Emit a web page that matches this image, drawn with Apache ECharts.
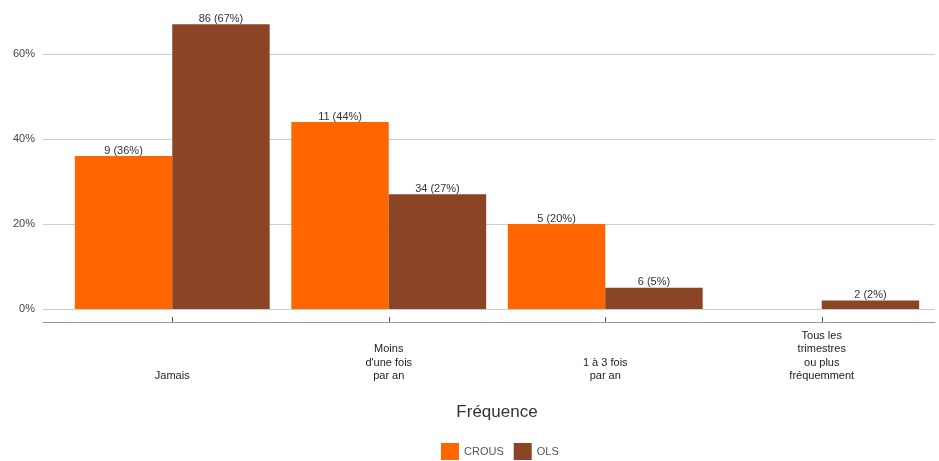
<!DOCTYPE html>
<html><head><meta charset="utf-8">
<script src="https://cdn.jsdelivr.net/npm/echarts@6/dist/echarts.min.js"></script>
<style>html,body{margin:0;padding:0;background:#fff}#c{width:939px;height:461px}</style>
</head><body><div id="c"></div>
<script>
const categories = ['Jamais', "Moins\nd'une fois\npar an", '1 à 3 fois\npar an', 'Tous les\ntrimestres\nou plus\nfréquemment'];
const seriesNames = ['CROUS', 'OLS'];
const crousCounts = [9, 11, 5, 0];
const crousPct = [36, 44, 20, 0];
const olsCounts = [86, 34, 6, 2];
const olsPct = [67, 27, 5, 2];
const yTicks = [0, 20, 40, 60];

const colors = ['#FF6600', '#8B4526'];
const font = 'Liberation Sans, Arial, sans-serif';

function lbl(counts, pct) {
  return {
    show: true, position: 'top', distance: 0,
    color: '#333', fontSize: 11, fontFamily: font,
    formatter: p => counts[p.dataIndex] === 0 ? '' : counts[p.dataIndex] + ' (' + pct[p.dataIndex] + '%)'
  };
}

const chart = echarts.init(document.getElementById('c'), null, {renderer: 'canvas'});
chart.setOption({
  animation: false,
  backgroundColor: '#fff',
  color: colors,
  grid: [
    {left: 64, right: 9, top: 11.5, bottom: 152},
    {left: 43, right: 4, top: 54, bottom: 152}
  ],
  xAxis: [
    {
      type: 'category', gridIndex: 0, data: categories, offset: 13,
      axisLine: {show: false, onZero: false},
      axisTick: {show: true, inside: true, length: 5, alignWithLabel: true, lineStyle: {color: '#555'}},
      axisLabel: {interval: 0, fontSize: 11, fontFamily: font, color: '#222', lineHeight: 13.5, verticalAlign: 'bottom', margin: 61, align: 'center'},
      name: 'Fréquence', nameLocation: 'middle', nameGap: 82,
      nameTextStyle: {fontSize: 17, fontFamily: font, color: '#333', verticalAlign: 'top'}
    },
    {
      type: 'category', gridIndex: 1, data: [''], offset: 13,
      axisLine: {show: true, onZero: false, lineStyle: {color: '#8a9bb0', width: 1}},
      axisTick: {show: false}, axisLabel: {show: false}
    }
  ],
  yAxis: [
    {type: 'value', gridIndex: 0, min: 0, max: 70, show: false, splitLine: {show: false}},
    {
      type: 'value', gridIndex: 1, min: 0, max: 60, interval: 20,
      axisLine: {show: false}, axisTick: {show: false},
      axisLabel: {formatter: '{value}%', fontSize: 11, fontFamily: font, color: '#444', margin: 8},
      splitLine: {show: true, lineStyle: {color: '#cccccc', width: 1}}
    }
  ],
  legend: {
    top: 438, left: 436, itemWidth: 18, itemHeight: 17, itemGap: 10,
    icon: 'rect',
    textStyle: {fontSize: 11, fontFamily: font, color: '#555'},
    data: seriesNames
  },
  series: [
    {name: seriesNames[0], type: 'bar', xAxisIndex: 0, yAxisIndex: 0, data: crousPct,
     barGap: '0%', barCategoryGap: '10%', label: lbl(crousCounts, crousPct), z: 3},
    {name: seriesNames[1], type: 'bar', xAxisIndex: 0, yAxisIndex: 0, data: olsPct,
     barGap: '0%', barCategoryGap: '10%', label: lbl(olsCounts, olsPct), z: 3}
  ]
});
</script></body></html>
